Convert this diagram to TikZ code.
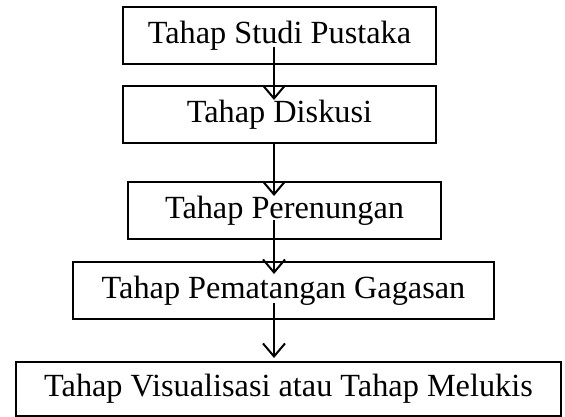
\documentclass[tikz,border=0pt]{standalone}
\usepackage{fontspec}
\setmainfont{Liberation Serif}
\usetikzlibrary{arrows.meta}
\begin{document}
\begin{tikzpicture}[x=1pt,y=-1pt,
  stepbox/.style={draw=black,line width=2pt,inner sep=0pt,minimum height=57pt,
    font=\fontsize{32.3}{38}\selectfont},
  flow/.style={line width=2pt,-{Straight Barb[length=13pt,width=22pt,line width=2pt]}}]
\useasboundingbox (0,0) rectangle (565,417);
\node[stepbox,minimum width=313pt,minimum height=57pt] (b1) at (279.5,36) {Tahap Studi Pustaka};
\node[stepbox,minimum width=313pt] (b2) at (279.5,114.5) {Tahap Diskusi};
\node[stepbox,minimum width=313pt] (b3) at (284.5,210.5) {Tahap Perenungan};
\node[stepbox,minimum width=421pt] (b4) at (283.5,290.5) {Tahap Pematangan Gagasan};
\node[stepbox,minimum width=545pt,minimum height=54pt] (b5) at (288.5,388.5) {Tahap Visualisasi atau Tahap Melukis};
\coordinate (a1s) at (274,47);  \coordinate (a1e) at (274,100);
\coordinate (a2s) at (274,143); \coordinate (a2e) at (274,196);
\coordinate (a3s) at (274,220); \coordinate (a3e) at (274,274);
\coordinate (a4s) at (274,303); \coordinate (a4e) at (274,358);
\draw[flow] (a1s) -- (a1e);
\draw[flow] (a2s) -- (a2e);
\draw[flow] (a3s) -- (a3e);
\draw[flow] (a4s) -- (a4e);
\end{tikzpicture}
\end{document}
